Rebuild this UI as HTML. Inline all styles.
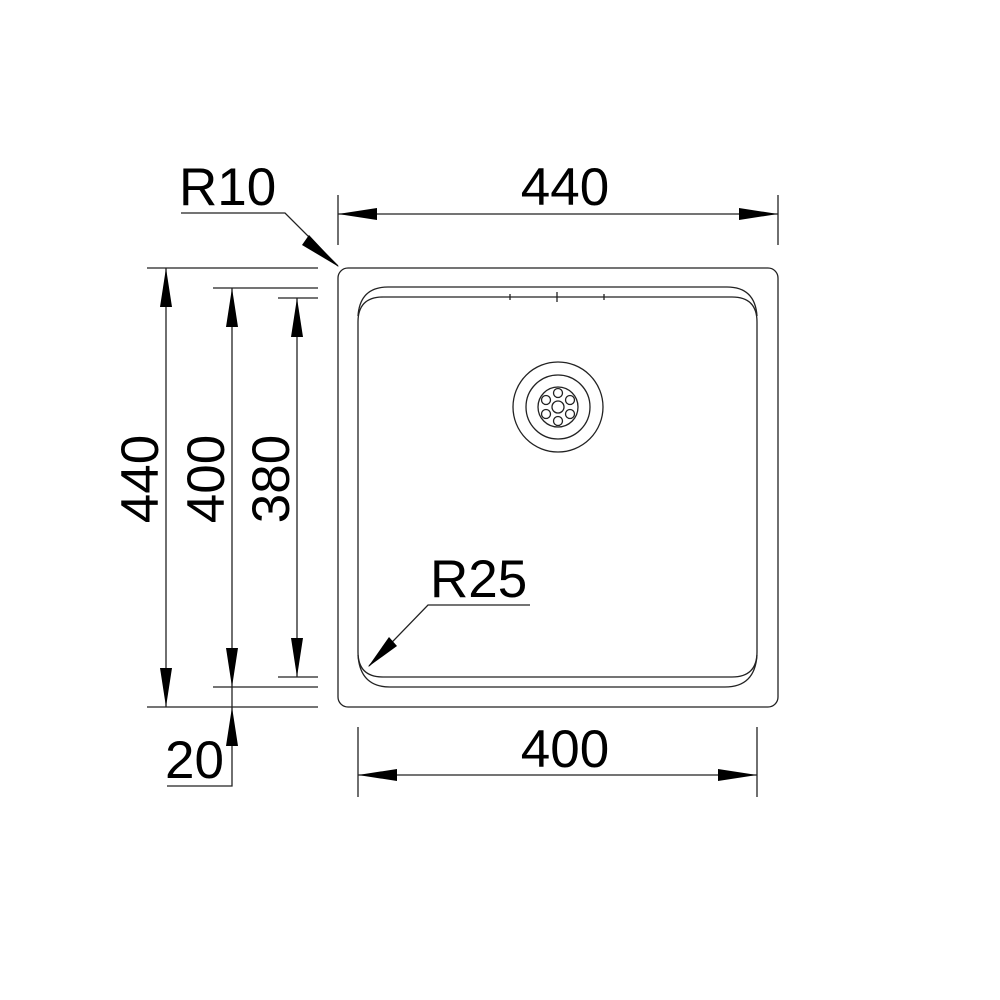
<!DOCTYPE html>
<html><head><style>
html,body{margin:0;padding:0;background:#fff;}
svg{display:block;}
text{font-family:"Liberation Sans",sans-serif;font-size:53px;fill:#000;}
</style></head><body>
<svg width="1000" height="1000" viewBox="0 0 1000 1000" xmlns="http://www.w3.org/2000/svg">
<g fill="none" stroke="#222" stroke-width="1.3">
<rect x="338" y="268" width="440" height="439" rx="10" ry="10"/>
<path d="M358,322 Q358,297 383,297 L732,297 Q757,297 757,322 L757,652 Q757,677 732,677 L383,677 Q358,677 358,652 Z"/>
<path d="M358,316 Q360,287 388,287 L727,287 Q755,287 757,316"/>
<path d="M358,655 Q360,687 390,687 L725,687 Q755,687 757,655"/>
<path d="M510,294 V300 M557,292 V302 M604,294 V300"/>
<circle cx="558" cy="407" r="45"/>
<circle cx="558" cy="407" r="32"/>
<circle cx="558" cy="407" r="20"/>
<circle cx="558" cy="407" r="6"/>
<circle cx="558" cy="393" r="4.5"/>
<circle cx="558" cy="421" r="4.5"/>
<circle cx="570" cy="400" r="4.5"/>
<circle cx="546" cy="400" r="4.5"/>
<circle cx="570" cy="414" r="4.5"/>
<circle cx="546" cy="414" r="4.5"/>
<path d="M338,195 V245 M778,195 V245 M338,214 H778"/>
<path d="M181,213 H285 L338,266"/>
<path d="M147,268 H318 M147,707 H318 M213,288 H318 M213,687 H318 M278,298 H318 M278,677 H318"/>
<path d="M166,268 V707 M232,288 V786 H167 M297,298 V677"/>
<path d="M358,727 V797 M757,727 V797 M358,775 H757"/>
<path d="M530,605 H428 L369,666"/>
</g>
<g fill="#000">
<polygon points="338,214 377,208 377,220"/>
<polygon points="778,214 739,208 739,220"/>
<polygon points="339,267 309,235 302,245"/>
<polygon points="166,268 160,307 172,307"/>
<polygon points="166,707 160,668 172,668"/>
<polygon points="232,288 226,327 238,327"/>
<polygon points="232,687 226,648 238,648"/>
<polygon points="232,707 226,746 238,746"/>
<polygon points="297,298 291,337 303,337"/>
<polygon points="297,677 291,638 303,638"/>
<polygon points="358,775 397,769 397,781"/>
<polygon points="757,775 718,769 718,781"/>
<polygon points="368,667 389,637 397,646"/>
</g>
<text x="179" y="205">R10</text>
<text x="565" y="205" text-anchor="middle">440</text>
<text x="565" y="767" text-anchor="middle">400</text>
<text x="430" y="597">R25</text>
<text x="165" y="778">20</text>
<text transform="translate(158,479) rotate(-90)" text-anchor="middle">440</text>
<text transform="translate(224,479) rotate(-90)" text-anchor="middle">400</text>
<text transform="translate(289,479) rotate(-90)" text-anchor="middle">380</text>
</svg>
</body></html>
